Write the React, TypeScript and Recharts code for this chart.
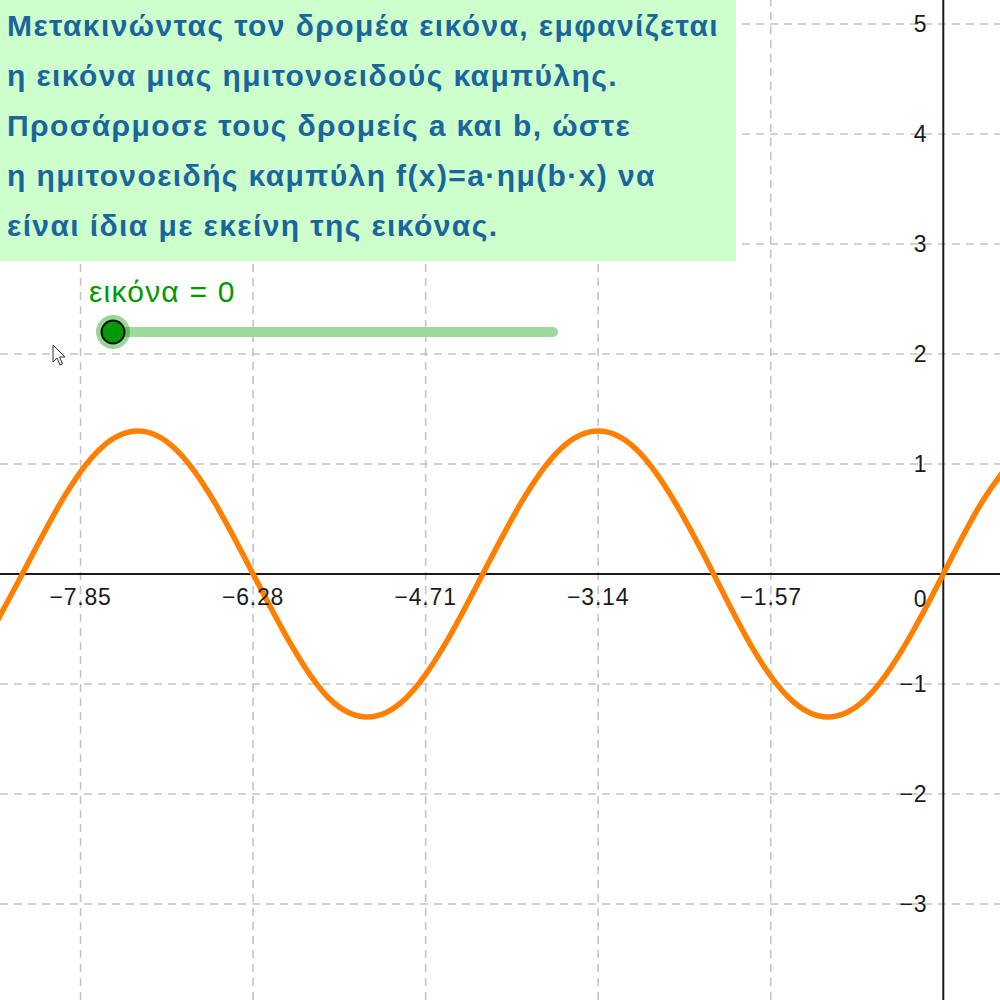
import React from "react";
import { LineChart, Line, XAxis, YAxis, ReferenceLine, ReferenceDot } from "recharts";

// values
const curveX = [-8.73, -8.38, -8.03, -7.68, -7.33, -6.98, -6.63, -6.28, -5.93, -5.59, -5.24, -4.89, -4.54, -4.19, -3.84, -3.49, -3.14, -2.79, -2.44, -2.09, -1.75, -1.40, -1.05, -0.70, -0.35, 0, 0.35, 0.70];
const curveY = [-0.65, 0, 0.65, 1.13, 1.3, 1.13, 0.65, 0, -0.65, -1.13, -1.3, -1.13, -0.65, 0, 0.65, 1.13, 1.3, 1.13, 0.65, 0, -0.65, -1.13, -1.3, -1.13, -0.65, 0, 0.65, 1.13];

const xTicks = [-7.85, -6.28, -4.71, -3.14, -1.57];
const xTickLabels = ["−7.85", "−6.28", "−4.71", "−3.14", "−1.57"];
const yTicks = [-3, -2, -1, 1, 2, 3, 4, 5];
const yTickLabels = ["−3", "−2", "−1", "1", "2", "3", "4", "5"];

const xDomain = [-8.583, 0.516];
const yDomain = [-3.873, 5.218];

const textLines = [
  "Μετακινώντας τον δρομέα εικόνα, εμφανίζεται",
  "η εικόνα μιας ημιτονοειδούς καμπύλης.",
  "Προσάρμοσε τους δρομείς a και b, ώστε",
  "η ημιτονοειδής καμπύλη f(x)=a·ημ(b·x) να",
  "είναι ίδια με εκείνη της εικόνας.",
];
const sliderLabel = "εικόνα = 0";

const data = curveX.map((x, i) => ({ x, y: curveY[i] }));

const font = '"Liberation Sans", Arial, sans-serif';
const tickStyle = { fontSize: 23, fill: "#1a1a1a", fontFamily: font, letterSpacing: 0.8 };

const OriginLabel = (props: any) => {
  const vb = props.viewBox || { x: 0, y: 0 };
  return (
    <text x={vb.x - 16} y={vb.y + 33} textAnchor="end" style={tickStyle}>
      0
    </text>
  );
};

const App: React.FC = () => {
  return (
    <div style={{ position: "absolute", left: 0, top: 0, width: 1000, height: 1000, background: "#fff", overflow: "hidden" }}>
      <LineChart width={1000} height={1000} data={data} margin={{ top: 0, right: 0, bottom: 0, left: 0 }}>
        <XAxis type="number" dataKey="x" domain={xDomain} allowDataOverflow hide />
        <YAxis type="number" domain={yDomain} allowDataOverflow hide />

        {/* grid */}
        {xTicks.map((v) => (
          <ReferenceLine key={"gx" + v} x={v} stroke="#c4c4c4" strokeWidth={1.6} strokeDasharray="8 6" />
        ))}
        {yTicks.map((v) => (
          <ReferenceLine key={"gy" + v} y={v} stroke="#c4c4c4" strokeWidth={1.6} strokeDasharray="8 6" />
        ))}

        {/* axes */}
        <ReferenceLine x={0} stroke="#1a1a1a" strokeWidth={2} />
        <ReferenceLine y={0} stroke="#1a1a1a" strokeWidth={2} />

        {/* tick labels */}
        {xTicks.map((v, i) => (
          <ReferenceDot
            key={"lx" + v}
            x={v}
            y={0}
            r={0}
            fill="none"
            stroke="none"
            label={{ value: xTickLabels[i], position: "bottom", offset: 15, style: tickStyle }}
          />
        ))}
        {yTicks.map((v, i) => (
          <ReferenceDot
            key={"ly" + v}
            x={0}
            y={v}
            r={0}
            fill="none"
            stroke="none"
            label={{ value: yTickLabels[i], position: "left", offset: 16, style: tickStyle }}
          />
        ))}
        <ReferenceDot x={0} y={0} r={0} fill="none" stroke="none" label={{ value: "0", content: OriginLabel }} />

        <Line
          type="natural"
          dataKey="y"
          stroke="#ff8000"
          strokeWidth={5.5}
          dot={false}
          activeDot={false}
          isAnimationActive={false}
        />
      </LineChart>

      {/* instruction box */}
      <div
        style={{
          position: "absolute",
          left: 0,
          top: 0,
          width: 736,
          height: 261,
          background: "#ccffcc",
          boxSizing: "border-box",
          paddingTop: 1,
          paddingLeft: 7,
          fontFamily: font,
          fontWeight: 700,
          fontSize: 30,
          letterSpacing: 1.4,
          lineHeight: "50px",
          color: "#1a659b",
        }}
      >
        {textLines.map((t) => (
          <div key={t} style={{ whiteSpace: "nowrap" }}>
            {t}
          </div>
        ))}
      </div>

      {/* slider */}
      <div
        style={{
          position: "absolute",
          left: 89,
          top: 274,
          fontFamily: font,
          fontSize: 30,
          letterSpacing: 1.2,
          lineHeight: "36px",
          color: "#009900",
          whiteSpace: "nowrap",
        }}
      >
        {sliderLabel}
      </div>
      <svg width={1000} height={1000} style={{ position: "absolute", left: 0, top: 0, pointerEvents: "none" }}>
        <line x1={113} y1={332} x2={553} y2={332} stroke="#9dd89d" strokeWidth={10} strokeLinecap="round" />
        <circle cx={113} cy={332} r={17} fill="#009900" opacity={0.4} />
        <circle cx={113} cy={332} r={11.5} fill="#009900" stroke="#111" strokeWidth={2} />
        <path
          d="M53,345 L53,362 L57,358 L60,365 L62.5,364 L59.5,357 L65,357 Z"
          fill="#fff"
          stroke="#333"
          strokeWidth={1}
        />
      </svg>
    </div>
  );
};

export default App;
